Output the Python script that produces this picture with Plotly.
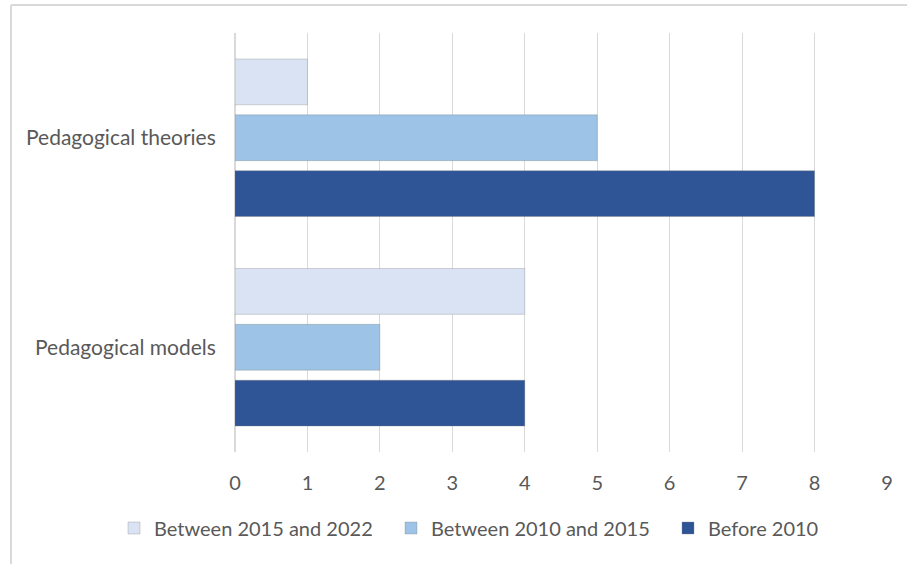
import plotly.graph_objects as go

categories = ["Pedagogical models", "Pedagogical theories"]
series_names = ["Before 2010", "Between 2010 and 2015", "Between 2015 and 2022"]
before_2010 = [4, 8]
between_2010_2015 = [2, 5]
between_2015_2022 = [4, 1]
colors = ["#2F5597", "#9DC3E6", "#DAE3F3"]
x_ticks = [0, 1, 2, 3, 4, 5, 6, 7, 8, 9]

fig = go.Figure()
for name, vals, col in zip(series_names, [before_2010, between_2010_2015, between_2015_2022], colors):
    fig.add_trace(go.Bar(
        y=categories, x=vals, name=name, orientation="h",
        marker=dict(color=col, line=dict(color="rgba(120,120,120,0.3)", width=1)),
    ))

font_family = "Lato, 'Open Sans', sans-serif"
fig.update_layout(
    width=907, height=564,
    paper_bgcolor="white", plot_bgcolor="white",
    margin=dict(l=235, r=20, t=33, b=112, autoexpand=False),
    barmode="group", bargap=0.2, bargroupgap=0.18,
    font=dict(family=font_family, color="#595959", size=20),
    xaxis=dict(range=[0, 9], tickvals=x_ticks, showgrid=True, gridcolor="#D9D9D9",
               gridwidth=1, zeroline=True, zerolinecolor="#D9D9D9", showline=False,
               ticks="outside", ticklen=13, tickcolor="rgba(0,0,0,0)",
               tickfont=dict(size=20, color="#595959")),
    yaxis=dict(showgrid=False, showline=False, ticks="outside", ticklen=14,
               tickcolor="rgba(0,0,0,0)", tickfont=dict(size=21, color="#595959"),
               automargin=False),
    legend=dict(orientation="h", traceorder="reversed", xref="paper", yref="paper",
                x=(114 - 235) / 652, xanchor="left", y=(452 - 528) / 419, yanchor="middle",
                font=dict(size=20, color="#595959"), itemwidth=30,
                entrywidth=232, entrywidthmode="pixels"),
    showlegend=True,
    shapes=[
        dict(type="line", xref="paper", yref="paper", x0=(11 - 235) / 652, x1=1.1,
             y0=1 + 28 / 419, y1=1 + 28 / 419, line=dict(color="#D9D9D9", width=2)),
        dict(type="line", xref="paper", yref="paper", x0=(11 - 235) / 652, x1=(11 - 235) / 652,
             y0=-0.3, y1=1 + 28 / 419, line=dict(color="#D9D9D9", width=2)),
    ],
)

fig.write_html("out.html", config={"displayModeBar": False},
               post_script="document.body.style.margin='0px';")
